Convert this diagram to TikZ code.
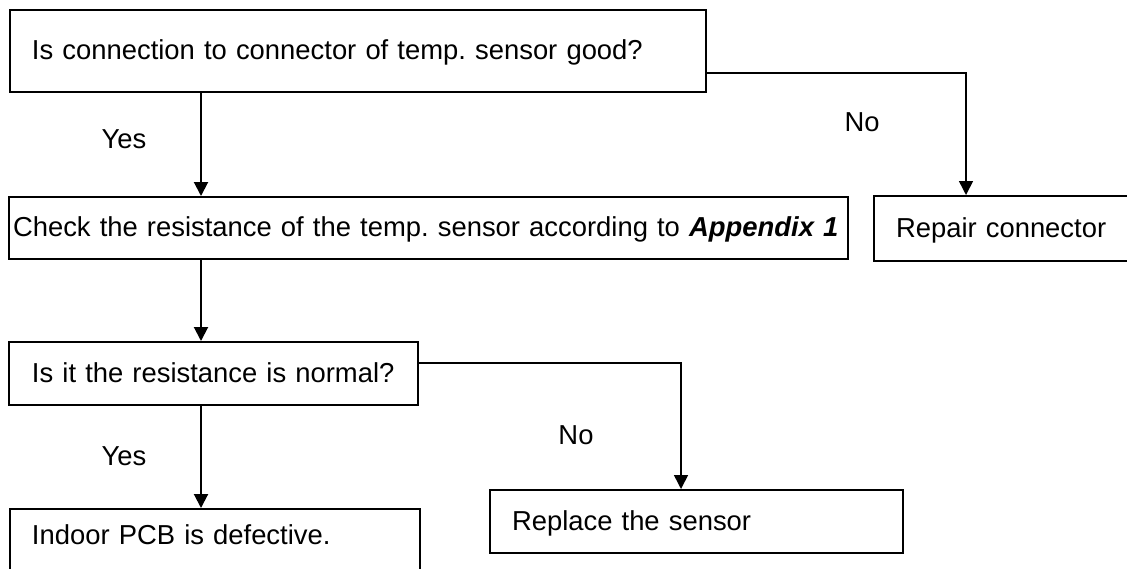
\documentclass[tikz,border=0pt]{standalone}
\usepackage{fontspec}
\setmainfont{Liberation Sans}
\frenchspacing
\usetikzlibrary{arrows.meta}

\begin{document}
\begin{tikzpicture}[
    x=0.5pt,
    y=-0.5pt,
    font=\fontsize{13.7}{16}\selectfont,
    box/.style={
        draw,line width=1pt,anchor=north west,align=left,
        inner ysep=0pt,text height=9.8pt,text depth=1pt
    },
    flow/.style={
        line width=1pt,
        -{Triangle[width=7pt,length=7pt]}
    },
    l/.style={anchor=base}
]
    \useasboundingbox (0,0) rectangle (1127,568);
    \clip (0,0) rectangle (1127,568);

    \node (connection) [box,inner xsep=11pt,text width=326pt,minimum height=41pt]
        at (9,9) {Is connection to connector of temp. sensor good?};
    \node (resistance) [box,inner xsep=2pt,text width=415.5pt,minimum height=31pt]
        at (8,196) {Check the resistance of the temp. sensor according to \textbf{\textit{Appendix 1}}};
    \node (repair) [box,inner xsep=11pt,text width=200pt,minimum height=32.5pt]
        at (873,195) {Repair connector};
    \node (normal) [box,inner xsep=11.5pt,text width=181.5pt,minimum height=31.5pt]
        at (8,341) {Is it the resistance is normal?};
    \node (pcb) [box,inner xsep=11pt,text width=183pt,inner ysep=7.7pt,text depth=30pt]
        at (9,508) {Indoor PCB is defective.};
    \node (replace) [box,inner xsep=11pt,text width=184.5pt,minimum height=31.5pt]
        at (489,489) {Replace the sensor};

    \coordinate (column) at (201,0);
    \coordinate (turn1) at (966,73);
    \coordinate (turn2) at (681,363);

    \draw [flow] (column |- connection.south) -- (column |- resistance.north);
    \draw [flow] (column |- resistance.south) -- (column |- normal.north);
    \draw [flow] (column |- normal.south) -- (column |- pcb.north);

    \draw [flow,line width=0.8pt] (turn1 -| connection.east) -- (turn1) -- (turn1 |- repair.north);
    \draw [flow,line width=0.8pt] (turn2 -| normal.east) -- (turn2) -- (turn2 |- replace.north);

    \node (yes1) [l] at (124,148) {Yes};
    \node (yes2) [l] at (124,465) {Yes};
    \node (no1) [l] at (862,131) {No};
    \node (no2) [l] at (576,444) {No};

\end{tikzpicture}
\end{document}
